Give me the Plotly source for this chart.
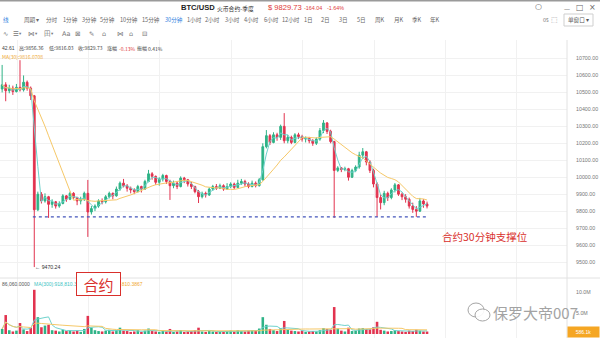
import plotly.graph_objects as go
import pandas as pd

# ---------------- data ----------------
FIRST_OPEN = 10520
CLOSES = [
    10545, 10510, 10525, 10505, 10530, 10515, 10560, 10525, 10480, 9808,
    9900, 9860, 9885, 9840, 9855, 9830, 9845, 9890, 9870, 9905,
    9880, 9860, 9870, 9905, 9795, 9815, 9830, 9860, 9855, 9885,
    9905, 9890, 9930, 9965, 9950, 9935, 9925, 9915, 9945, 9930,
    9975, 10020, 10005, 9970, 9990, 10010, 9975, 9950, 9965, 9945,
    9995, 9985, 9960, 9945, 9915, 9885, 9905, 9895, 9930, 9945,
    9935, 9950, 9930, 9945, 9960, 9940, 9965, 9975, 9960, 9945,
    9965, 9950, 9985, 10180, 10245, 10205, 10250, 10235, 10300, 10215,
    10235, 10205, 10250, 10240, 10225, 10230, 10215, 10200, 10225, 10275,
    10320, 10270, 10210, 10040, 10055, 10045, 10050, 10000, 10040, 10060,
    10130, 10150, 10090, 10040, 9960, 9880, 9850, 9905, 9880, 9925,
    9955, 9900, 9885, 9870, 9830, 9810, 9800, 9860, 9842.61, 9829.73,
]
HIGHS = [
    10662, 10560, 10545, 10540, 10550, 10690, 10600, 10570, 10535, 10485,
    9915, 9912, 9905, 9890, 9870, 9860, 9858, 9900, 9895, 9915,
    9912, 9885, 9885, 9915, 9984, 9830, 9840, 9870, 9875, 9895,
    9915, 9910, 9945, 9975, 9990, 9960, 9945, 9935, 9955, 9950,
    9985, 10043, 10030, 10010, 10000, 10020, 10015, 9985, 9980, 9975,
    10005, 10002, 9990, 9972, 9950, 9925, 9915, 9915, 9940, 9955,
    9960, 9962, 9958, 9965, 9970, 9968, 9985, 9990, 9985, 9970,
    9980, 9975, 9995, 10200, 10278, 10255, 10265, 10262, 10310, 10378,
    10250, 10245, 10260, 10262, 10250, 10240, 10238, 10225, 10235, 10290,
    10337, 10325, 10280, 10215, 10065, 10060, 10062, 10055, 10050, 10070,
    10150, 10172, 10155, 10100, 10050, 9970, 9900, 9920, 9915, 9935,
    9966, 9960, 9910, 9900, 9880, 9850, 9830, 9878, 9870, 9856.36,
]
LOWS = [
    10500, 10448, 10495, 10485, 10500, 10505, 10505, 10510, 10455, 9470.24,
    9800, 9845, 9850, 9760, 9820, 9815, 9820, 9840, 9855, 9865,
    9870, 9835, 9840, 9860, 9648, 9780, 9800, 9820, 9840, 9845,
    9875, 9870, 9885, 9920, 9940, 9915, 9905, 9900, 9910, 9910,
    9925, 9970, 9985, 9955, 9950, 9975, 9960, 9866, 9935, 9930,
    9940, 9965, 9945, 9930, 9905, 9848, 9875, 9880, 9890, 9920,
    9925, 9930, 9920, 9925, 9935, 9930, 9935, 9955, 9945, 9935,
    9940, 9940, 9945, 9980, 10170, 10190, 10200, 10215, 10220, 10200,
    10200, 10195, 10200, 10225, 10210, 10205, 10200, 10185, 10190, 10215,
    10260, 10255, 10200, 9760, 10030, 10030, 10035, 9980, 9995, 10030,
    10050, 10110, 10070, 10025, 9940, 9766, 9810, 9835, 9860, 9870,
    9910, 9890, 9865, 9850, 9815, 9790, 9766, 9795, 9820, 9816.03,
]
VOLUMES_M = [
    1.2, 4.5, 0.9, 0.6, 0.8, 2.6, 1.1, 0.7, 1.5, 10.5,
    4.0, 1.6, 2.0, 2.2, 0.9, 0.8, 0.6, 1.0, 0.7, 0.9,
    0.6, 0.8, 0.5, 1.2, 4.3, 1.5, 0.9, 0.7, 0.6, 0.8,
    1.0, 0.6, 0.9, 1.5, 0.8, 0.7, 0.5, 0.6, 0.9, 0.5,
    0.8, 1.3, 0.7, 0.6, 0.5, 0.7, 0.6, 1.2, 0.5, 0.6,
    0.9, 0.5, 0.6, 0.7, 0.9, 1.5, 0.6, 0.5, 0.7, 0.6,
    0.5, 0.6, 0.5, 0.7, 0.8, 0.6, 0.9, 0.7, 0.6, 0.8,
    0.9, 0.7, 1.3, 4.0, 2.2, 1.2, 0.9, 0.7, 1.4, 3.1,
    1.1, 0.8, 0.7, 0.6, 0.8, 0.5, 0.6, 0.7, 0.6, 0.9,
    1.4, 1.2, 1.0, 6.4, 1.3, 0.8, 0.6, 1.5, 0.7, 0.8,
    1.3, 1.4, 1.2, 1.1, 1.6, 2.9, 1.0, 0.8, 0.6, 0.7,
    0.9, 0.7, 0.6, 0.5, 0.8, 0.7, 1.0, 0.8, 0.6, 0.586,
]
PRICE_TICKS = [9500, 9600, 9700, 9800, 9900, 10000, 10100, 10200, 10300, 10400, 10500, 10600, 10700]
VOLUME_TICKS = [5, 10]
VOLUME_TICK_TEXT = ["5.0M", "10.0M"]
SUPPORT_LEVEL = 9766
SUPPORT_START_INDEX = 9
LOW_INDEX = 9
LOW_VALUE = 9470.24
MA_FAST, MA_SLOW = 3, 12
VOL_MA_FAST, VOL_MA_SLOW = 5, 20

# ---------------- derived ----------------
idx = list(range(len(CLOSES)))
opens = [FIRST_OPEN] + CLOSES[:-1]
s = pd.Series(CLOSES)
ma_fast = s.rolling(MA_FAST, min_periods=1).mean()
ma_slow = s.rolling(MA_SLOW, min_periods=1).mean()
v = pd.Series(VOLUMES_M)
vma_fast = v.rolling(VOL_MA_FAST, min_periods=1).mean()
vma_slow = v.rolling(VOL_MA_SLOW, min_periods=1).mean()

UP = "#2fb387"
DOWN = "#e2334f"
CYAN = "#6fd3cd"
ORANGE = "#f6c868"
FONT = "Noto Sans CJK SC, Roboto, sans-serif"

W, H = 600, 338


def X(px):
    return px / W


def Y(py):
    return 1 - py / H


fig = go.Figure()
fig.add_trace(go.Candlestick(
    x=idx, open=opens, high=HIGHS, low=LOWS, close=CLOSES,
    increasing=dict(line=dict(color=UP, width=1), fillcolor=UP),
    decreasing=dict(line=dict(color=DOWN, width=1), fillcolor=DOWN),
    whiskerwidth=0, hoverinfo="skip", xaxis="x", yaxis="y"))
fig.add_trace(go.Scatter(x=idx, y=ma_fast, mode="lines",
                         line=dict(color=CYAN, width=1), xaxis="x", yaxis="y", hoverinfo="skip"))
fig.add_trace(go.Scatter(x=idx, y=ma_slow, mode="lines",
                         line=dict(color=ORANGE, width=1), xaxis="x", yaxis="y", hoverinfo="skip"))

vcolors = [UP if c >= o else DOWN for o, c in zip(opens, CLOSES)]
fig.add_trace(go.Bar(x=idx, y=VOLUMES_M, marker=dict(color=vcolors, line=dict(width=0)),
                     width=0.72, xaxis="x2", yaxis="y2", hoverinfo="skip"))
fig.add_trace(go.Scatter(x=idx, y=vma_fast, mode="lines",
                         line=dict(color=CYAN, width=1), xaxis="x2", yaxis="y2", hoverinfo="skip"))
fig.add_trace(go.Scatter(x=idx, y=vma_slow, mode="lines",
                         line=dict(color=ORANGE, width=1), xaxis="x2", yaxis="y2", hoverinfo="skip"))

xdom = [0, 567 / W]
xcommon = dict(domain=xdom, range=[-0.6, 158.2], showticklabels=False, showgrid=True,
               gridcolor="#f1f1f1", gridwidth=1, tickmode="linear", tick0=4.16, dtick=20,
               zeroline=False, showline=False, ticks="", fixedrange=True)

fig.update_layout(
    width=W, height=H, margin=dict(l=0, r=0, t=0, b=0),
    paper_bgcolor="white", plot_bgcolor="white", showlegend=False,
    font=dict(family=FONT),
    xaxis=dict(anchor="y", rangeslider=dict(visible=False), **xcommon),
    xaxis2=dict(anchor="y2", matches="x", **xcommon),
    yaxis=dict(domain=[Y(278), Y(40)], range=[9405.8, 10809], side="right", anchor="x",
               tickvals=PRICE_TICKS, ticktext=[f"{t:.2f}" for t in PRICE_TICKS],
               showgrid=True, gridcolor="#f1f1f1", zeroline=False, ticks="",
               ticklabelstandoff=8, tickfont=dict(size=5.3, color="#777", family="Liberation Sans"),
               fixedrange=True),
    yaxis2=dict(domain=[0, Y(278)], range=[-0.95, 13.3], side="right", anchor="x2",
                tickvals=VOLUME_TICKS, ticktext=VOLUME_TICK_TEXT, showgrid=False,
                zeroline=False, ticks="", ticklabelstandoff=8,
                tickfont=dict(size=5.3, color="#777", family="Liberation Sans"), fixedrange=True),
)

shapes = []
# window top border
shapes.append(dict(type="rect", xref="paper", yref="paper", x0=0, x1=1, y0=Y(1.5), y1=1,
                   fillcolor="#9a9a9a", line=dict(width=0), layer="above"))
# separators
shapes.append(dict(type="line", xref="paper", yref="paper", x0=0, x1=1, y0=Y(278), y1=Y(278),
                   line=dict(color="#e2e2e2", width=1)))
shapes.append(dict(type="line", xref="paper", yref="paper", x0=X(567), x1=X(567), y0=0, y1=Y(40),
                   line=dict(color="#e2e2e2", width=1)))
# support line
shapes.append(dict(type="line", xref="x", yref="y", x0=SUPPORT_START_INDEX - 0.4, x1=idx[-1] + 0.3,
                   y0=SUPPORT_LEVEL, y1=SUPPORT_LEVEL, line=dict(color="#4455bb", width=1.4, dash="dot"),
                   layer="above"))
# "单窗口" box
shapes.append(dict(type="rect", xref="paper", yref="paper", x0=X(564), x1=X(593), y0=Y(26), y1=Y(14),
                   line=dict(color="#cfcfcf", width=1), fillcolor="white"))
# wechat-like icon for watermark
shapes.append(dict(type="circle", xref="paper", yref="paper", x0=X(468), x1=X(484), y0=Y(317), y1=Y(303),
                   line=dict(color="#a5a5a5", width=1), fillcolor="rgba(255,255,255,0.6)", layer="above"))
shapes.append(dict(type="circle", xref="paper", yref="paper", x0=X(475), x1=X(490), y0=Y(321), y1=Y(309),
                   line=dict(color="#a5a5a5", width=1), fillcolor="rgba(255,255,255,0.9)", layer="above"))
fig.update_layout(shapes=shapes)

ann = []


def T(text, px, py, size=5.8, color="#666", anchor="left", bold=False, family=None, **kw):
    d = dict(text=f"<b>{text}</b>" if bold else text, x=X(px), y=Y(py), xref="paper", yref="paper",
             xanchor=anchor, yanchor="middle", showarrow=False,
             font=dict(size=size, color=color, family=family or FONT))
    d.update(kw)
    ann.append(d)


# row 1: title
T("BTC/USD", 179, 7.5, size=7.6, color="#222", bold=True, family="Liberation Sans")
T("火币合约-季度", 215, 8, size=5.8, color="#333")
T("$ 9829.73", 266, 7.5, size=7.6, color="#e03a3a", family="Liberation Sans")
T("-164.04", 302, 8, size=5.4, color="#e03a3a", family="Liberation Sans")
T("-1.64%", 325, 8, size=5.4, color="#e03a3a", family="Liberation Sans")
T("○", 538, 7, size=8, color="#666", anchor="center", family="DejaVu Sans")
T("—", 567, 8, size=6, color="#666", anchor="center", family="DejaVu Sans")
T("□", 580, 7.5, size=8, color="#666", anchor="center", family="DejaVu Sans")
T("×", 592, 7.5, size=8, color="#666", anchor="center", family="DejaVu Sans")

# row 2: periods
BLUE = "#2f7fe0"
row2 = [("线", 0.5, BLUE), ("周期 ▾", 22, "#666"), ("分时", 44, "#666"), ("1分钟", 61, "#666"),
        ("3分钟", 80, "#666"), ("5分钟", 98, "#666"), ("10分钟", 118, "#666"), ("15分钟", 140, "#666"),
        ("30分钟", 163, BLUE), ("1小时", 185, "#666"), ("2小时", 203, "#666"), ("3小时", 223, "#666"),
        ("4小时", 242, "#666"), ("6小时", 262, "#666"), ("12小时", 280, "#666"), ("1日", 302, "#666"),
        ("2日", 319, "#666"), ("3日", 337, "#666"), ("5日", 355, "#666"), ("周K", 373, "#666"),
        ("月K", 392, "#666"), ("季K", 410, "#666"), ("年K", 428, "#666")]
for t, px, c in row2:
    T(t, px, 20, size=5.6, color=c)
T("0s", 541, 20, size=5.6, color="#777")
T("⬚", 554, 20, size=7, color="#888", anchor="center", family="DejaVu Sans")
T("单窗口 ▾", 578.5, 20, size=5.6, color="#555", anchor="center")

# row 3: tool icons
row3 = [("∿", 1), ("☰", 11), ("▾", 17), ("⋈", 26), ("▾", 33), ("田", 42), ("▾", 49), ("Aa", 60),
        ("⊠", 73), ("✎", 87), ("⌂", 100), ("⋈", 115), ("⌂", 127), ("⊟", 140)]
for t, px in row3:
    T(t, px, 34, size=6.5 if t != "▾" else 4.5, color="#777", family="DejaVu Sans")

# info line
T("42.61", 0, 48, size=5, color="#444", family="Liberation Sans")
T("高:9856.36", 17, 48, size=5, color="#444")
T("低:9816.03", 47, 48, size=5, color="#444")
T("收:9829.73", 76, 48, size=5, color="#444")
T("涨幅", 105, 48, size=5, color="#444")
T("-0.13%", 117, 48, size=5, color="#e03a3a")
T("振幅", 135, 48, size=5, color="#444")
T("0.41%", 146, 48, size=5, color="#444")
T("MA(30):9816.0708", 0, 57, size=5, color="#f0a830")

# low marker
ann.append(dict(text="← 9470.24", x=LOW_INDEX, y=LOW_VALUE, xref="x", yref="y", xanchor="left",
                yanchor="middle", showarrow=False, xshift=-1,
                font=dict(size=5.2, color="#333", family="Liberation Sans")))

# support label
T("合约30分钟支撑位", 485, 236, size=10.5, color="#d9302c", anchor="center")

# volume labels
T("86,060.0000", 0, 284, size=5, color="#555", family="Liberation Sans")
T("MA(300):918,810.386", 32, 284, size=5, color="#3cc3c3", family="Liberation Sans")
T("918,810.3867", 145, 284, size=5, color="#f0a830", anchor="right", family="Liberation Sans")
ann.append(dict(text="合约", x=X(98.5), y=Y(284), xref="paper", yref="paper", xanchor="center",
                yanchor="middle", showarrow=False, width=41, height=20, bgcolor="white",
                bordercolor="#d9302c", borderwidth=1, borderpad=1,
                font=dict(size=15, color="#d9302c", family=FONT)))

# watermark
T("保罗大帝007", 491, 312, size=15, color="#a3a3a3")

# last volume tag
ann.append(dict(text="586.1k", x=X(583), y=Y(331.5), xref="paper", yref="paper", xanchor="center",
                yanchor="middle", showarrow=False, width=29, height=8, bgcolor="#f5a623",
                borderpad=1, font=dict(size=5, color="white", family="Liberation Sans")))

fig.update_layout(annotations=ann)
fig.write_html("out.html")
